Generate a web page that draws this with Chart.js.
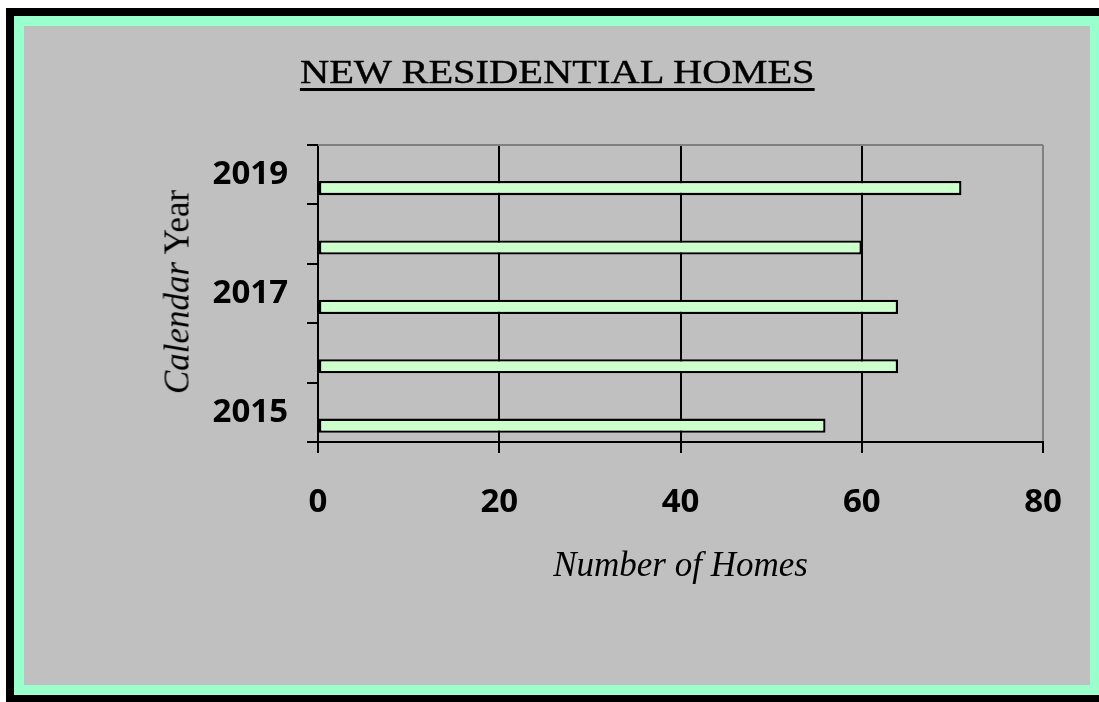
<!DOCTYPE html>
<html>
<head>
<meta charset="utf-8">
<script src="https://cdn.jsdelivr.net/npm/chart.js@4.4.1/dist/chart.umd.min.js"></script>
<style>
  html, body { margin: 0; padding: 0; background: #fff; overflow: hidden; }
  body { width: 1099px; height: 702px; position: relative; }
  .frame { position: absolute; left: 6px; top: 8px; width: 1102px; height: 695px; background: #000; }
  .frame .teal { position: absolute; left: 8px; top: 8px; right: 8px; bottom: 8px; background: #99ffcc; }
  .frame .grey { position: absolute; left: 10px; top: 10px; right: 10px; bottom: 10px; background: #c0c0c0; }
  canvas { position: absolute; left: 0; top: 0; }
  .title {
    position: absolute; left: 24px; width: 1066px; top: 55px; text-align: center;
    font: 34px "Liberation Serif", serif; line-height: 1; color: #000;
  }
  .title span {
    display: inline-block; transform: scaleX(1.19);
    text-decoration: underline; text-decoration-thickness: 3px; text-underline-offset: 5px;
    -webkit-text-stroke: 0.4px #000;
  }
  .ytitle {
    position: absolute; left: 177px; top: 292px; transform: translate(-50%, -50%) rotate(-90deg);
    font: 35px "Liberation Serif", serif; line-height: 1; white-space: nowrap; color: #000;
  }
  .xtitle {
    position: absolute; left: 318px; width: 725px; top: 547px; text-align: center;
    font: italic 35px "Liberation Serif", serif; line-height: 1; color: #000;
  }
</style>
</head>
<body>
<div class="frame"><div class="teal"><div class="grey"></div></div></div>
<canvas id="chart" width="1099" height="702"></canvas>
<div class="title"><span>NEW RESIDENTIAL HOMES</span></div>
<div class="ytitle"><i>Calendar</i> Year</div>
<div class="xtitle">Number of Homes</div>
<script>
const years = ["2019", "2018", "2017", "2016", "2015"];
const homes = [71, 60, 64, 64, 56];
const spacer = [null, null, null, null, null];
const xTicks = [0, 20, 40, 60, 80];

const tickFont = { family: "'Open Sans', sans-serif", size: 33, weight: "bold" };

// grey frame line along the top of the plot area
const topBorder = {
  id: "topBorder",
  beforeDatasetsDraw(chart) {
    const { ctx, chartArea } = chart;
    ctx.save();
    ctx.strokeStyle = "#808080";
    ctx.lineWidth = 2;
    ctx.beginPath();
    ctx.moveTo(chartArea.left, chartArea.top);
    ctx.lineTo(chartArea.right, chartArea.top);
    ctx.stroke();
    ctx.restore();
  }
};

new Chart(document.getElementById("chart"), {
  type: "bar",
  data: {
    labels: years,
    datasets: [
      { label: "", data: spacer, backgroundColor: "#ccffcc" },
      {
        label: "Homes",
        data: homes,
        backgroundColor: "#ccffcc",
        borderColor: "#000",
        borderWidth: 2.3,
        borderSkipped: false
      }
    ]
  },
  options: {
    indexAxis: "y",
    responsive: false,
    animation: false,
    categoryPercentage: 0.9,
    barPercentage: 0.53,
    layout: { padding: { top: 145, right: 56, left: 0, bottom: 0 } },
    plugins: { legend: { display: false }, tooltip: { enabled: false } },
    scales: {
      x: {
        min: xTicks[0],
        max: xTicks[xTicks.length - 1],
        ticks: { stepSize: xTicks[1] - xTicks[0], color: "#000", font: tickFont, padding: 30 },
        grid: {
          color: (c) => (c.tick && c.tick.value === xTicks[xTicks.length - 1] ? "#808080" : "#000"),
          tickColor: "#000",
          lineWidth: 2,
          tickLength: 11
        },
        border: { color: "#000", width: 2 },
        afterFit: (scale) => { scale.height = 260; }
      },
      y: {
        ticks: {
          color: "#000",
          font: tickFont,
          padding: 19,
          autoSkip: false,
          callback: (value, index) => (index % 2 === 0 ? years[index] : "")
        },
        grid: { offset: true, drawOnChartArea: false, color: "#000", lineWidth: 2, tickLength: 11 },
        border: { color: "#000", width: 2 },
        afterFit: (scale) => { scale.width = 318; }
      }
    }
  },
  plugins: [topBorder]
});
</script>
</body>
</html>
